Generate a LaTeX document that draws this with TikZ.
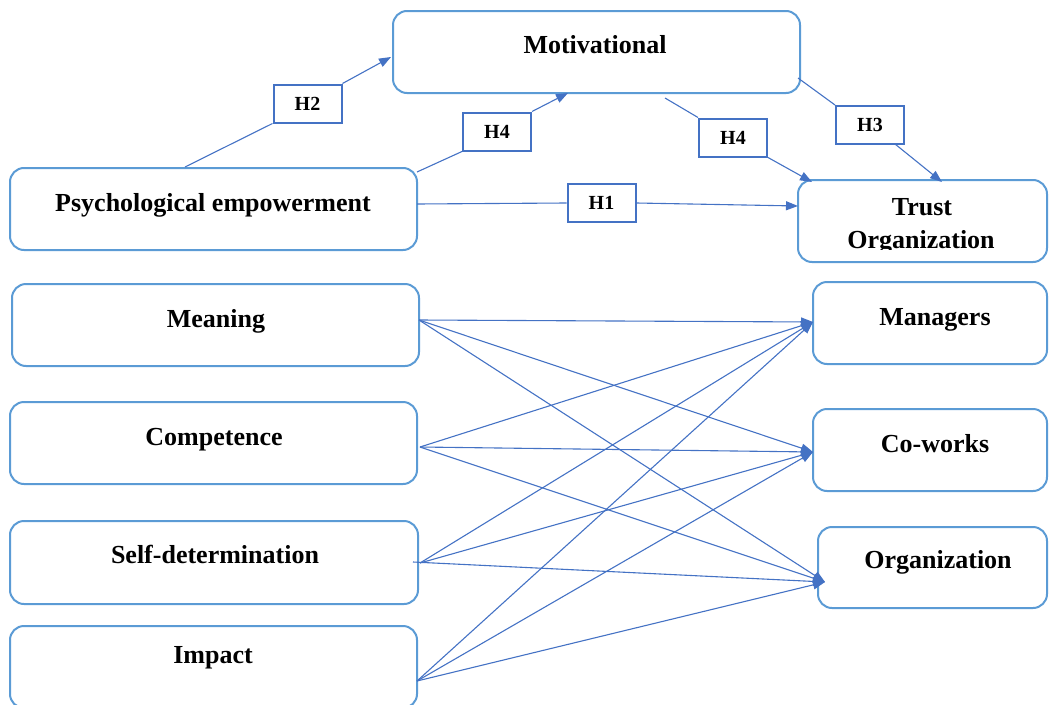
\documentclass[tikz,border=0pt]{standalone}
\usepackage{fontspec}
\setmainfont{Liberation Serif}
\usetikzlibrary{arrows.meta}
\definecolor{boxblue}{HTML}{5B9BD5}
\definecolor{hblue}{HTML}{4472C4}
\tikzset{
  boxstyle/.style={draw=boxblue, line width=2pt, rounded corners=14pt,
    minimum height=82pt, inner sep=0pt},
  lbl/.style={anchor=base, inner sep=0pt, font=\fontsize{26}{30}\selectfont\bfseries},
  hbox/.style={draw=hblue, line width=2pt, fill=white, minimum width=68pt,
    minimum height=38pt, inner sep=0pt, font=\fontsize{20}{24}\selectfont\bfseries},
  link/.style={draw=hblue, line width=1.1pt},
  arr/.style={link, -{Triangle[length=12pt,width=9pt]}}
}
\begin{document}
\begin{tikzpicture}[x=1pt, y=-1pt]
\useasboundingbox (0,0) rectangle (1049,704);

% construct boxes
\node[boxstyle, minimum width=407pt] (mot) at (596.5,52) {};
\node[boxstyle, minimum width=407pt] (pe) at (213.5,209) {};
\node[boxstyle, minimum width=249pt] (trust) at (922.5,221) {};
\node[boxstyle, minimum width=407pt] (mean) at (215.5,325) {};
\node[boxstyle, minimum width=407pt] (comp) at (213.5,443) {};
\node[boxstyle, minimum width=408pt, minimum height=83pt] (selfd) at (214,562.5) {};
\node[boxstyle, minimum width=407pt] (imp) at (213.5,667) {};
\node[boxstyle, minimum width=234pt] (mgr) at (930,323) {};
\node[boxstyle, minimum width=234pt] (cow) at (930,450) {};
\node[boxstyle, minimum width=229pt, minimum height=81pt] (org) at (932.5,567.5) {};

% box titles
\node[lbl] (mot-t) at (595,53) {Motivational};
\node[lbl] (pe-t) at (213,211) {Psychological empowerment};
\node[lbl] (trust-t) at (922,215) {Trust};
\begin{scope}
  \clip (798,180) rectangle (1047,249);
  \node[lbl] (trust-t2) at (921,248) {Organization};
\end{scope}
\node[lbl] (mean-t) at (216,327) {Meaning};
\node[lbl] (comp-t) at (214,445) {Competence};
\node[lbl] (selfd-t) at (215,563) {Self-determination};
\node[lbl] (imp-t) at (213,663) {Impact};
\node[lbl] (mgr-t) at (935,325) {Managers};
\node[lbl] (cow-t) at (935,452) {Co-works};
\node[lbl] (org-t) at (938,568) {Organization};

% hypothesis tags
\node[hbox] (h2) at (307.5,103.5) {H2};
\node[hbox] (h4a) at (497,131.5) {H4};
\node[hbox] (h4b) at (733,137.5) {H4};
\node[hbox] (h3) at (870,125) {H3};
\node[hbox] (h1) at (601.5,203) {H1};

% end points on the box borders
\coordinate (pe-h2) at (185,167);
\coordinate (mot-h2) at (391,57);
\coordinate (pe-h4) at (417,172);
\coordinate (mot-h4) at (568,93);
\coordinate (mot-h4b) at (665,98);
\coordinate (trust-h4) at (812,182);
\coordinate (mot-h3) at (798,78);
\coordinate (h3-out) at (895,144);
\coordinate (trust-h3) at (942,182);
\coordinate (pe-h1) at (417,204);
\coordinate (trust-h1) at (798,206);

% paths through the hypothesis tags
\draw[link] (pe-h2) -- (h2.south west);
\draw[arr] (h2.north east) -- (mot-h2);
\draw[link] (pe-h4) -- (h4a.south west);
\draw[arr] (h4a.north east) -- (mot-h4);
\draw[link] (mot-h4b) -- (h4b.north west);
\draw[arr] (h4b.south east) -- (trust-h4);
\draw[link] (mot-h3) -- (h3.north west);
\draw[arr] (h3-out) -- (trust-h3);
\draw[link] (pe-h1) -- (h1.west);
\draw[arr] (h1.east) -- (trust-h1);

% dimensions to trust targets
\coordinate (s1) at (419,320);
\coordinate (s2) at (420,447);
\coordinate (s3) at (420,563);
\coordinate (s3b) at (413,562);
\coordinate (s4) at (417,681);
\coordinate (t1) at (813,322);
\coordinate (t2) at (813,452);
\coordinate (t3) at (825,582);

\foreach \s in {s1,s2,s3,s4}{
  \draw[arr] (\s) -- (t1);
  \draw[arr] (\s) -- (t2);
}
\draw[arr] (s1) -- (t3);
\draw[arr] (s2) -- (t3);
\draw[arr] (s3b) -- (t3);
\draw[arr] (s4) -- (t3);
\end{tikzpicture}
\end{document}
